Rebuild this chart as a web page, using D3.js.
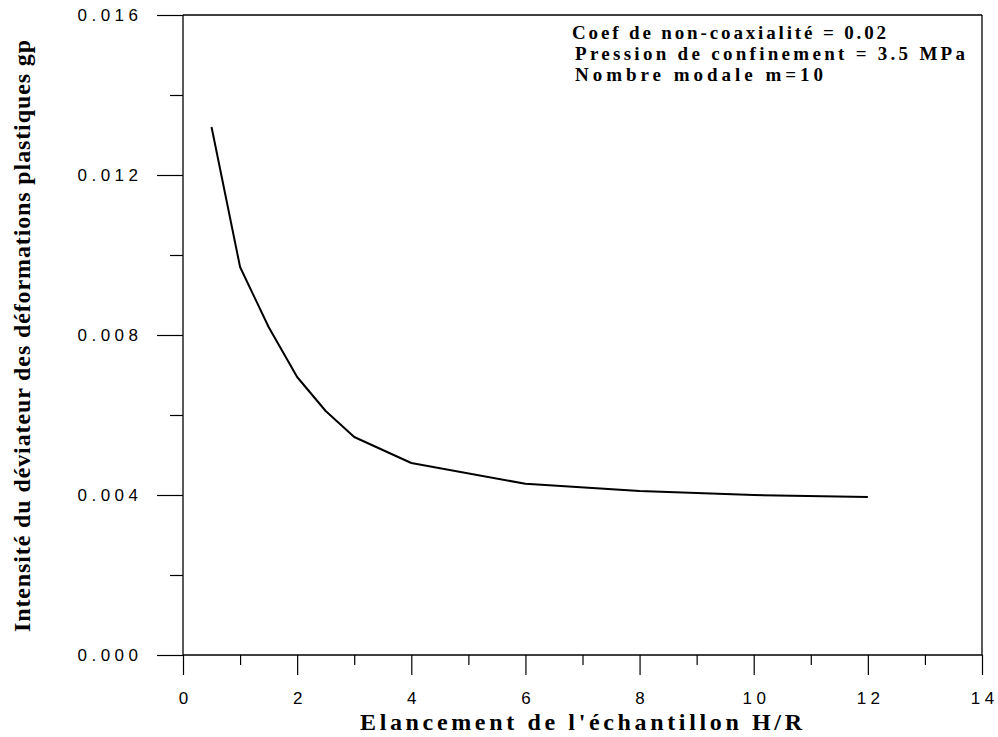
<!DOCTYPE html>
<html><head><meta charset="utf-8">
<script src="https://cdn.jsdelivr.net/npm/d3@7/dist/d3.min.js"></script>
<style>
html,body{margin:0;padding:0;background:#fff;}
svg{display:block;}
.tick text{font-family:"Liberation Sans",Arial,sans-serif;font-size:17px;fill:#000;letter-spacing:4.5px;}
</style></head>
<body>
<svg id="chart" width="998" height="737"></svg>
<script>
// ---- data ----
const slenderness = [0.5, 1, 1.5, 2, 2.5, 3, 4, 6, 8, 10, 12];
const gpIntensity = [0.0132, 0.0097, 0.0082, 0.00695, 0.0061, 0.00545, 0.0048, 0.00428, 0.0041, 0.0040, 0.00395];
const xMajorTicks = [0, 2, 4, 6, 8, 10, 12, 14];
const xMinorTicks = [1, 3, 5, 7, 9, 11, 13];
const yMajorTicks = [0, 0.004, 0.008, 0.012, 0.016];
const yMinorTicks = [0.002, 0.006, 0.010, 0.014];
const annotationLines = [
  "Coef de non-coaxialité = 0.02",
  "Pression de confinement = 3.5 MPa",
  "Nombre modale m=10"
];
const xTitle = "Elancement de l'échantillon H/R";
const yTitle = "Intensité du déviateur des déformations plastiques gp";

// ---- layout ----
const L = 183, R = 982, T = 15, B = 655;
const svg = d3.select("#chart");
const x = d3.scaleLinear().domain([0, 14]).range([L, R]);
const y = d3.scaleLinear().domain([0, 0.016]).range([B, T]);

// frame (top and right)
svg.append("line").attr("x1", L).attr("x2", R).attr("y1", T).attr("y2", T)
  .attr("stroke", "#000").attr("stroke-width", 1.3);
svg.append("line").attr("x1", R).attr("x2", R).attr("y1", T).attr("y2", B)
  .attr("stroke", "#000").attr("stroke-width", 1.3);

// y axis
const yMaj = svg.append("g").attr("transform", `translate(${L},0)`)
  .call(d3.axisLeft(y).tickValues(yMajorTicks).tickSize(26).tickSizeOuter(0)
    .tickFormat(d3.format(".3f")));
yMaj.select(".domain").remove();
yMaj.selectAll(".tick text").attr("x", -40.5).attr("dy", "0.35em");
const yMin = svg.append("g").attr("transform", `translate(${L},0)`)
  .call(d3.axisLeft(y).tickValues(yMinorTicks).tickSize(13).tickFormat(""));
yMin.select(".domain").remove();
svg.append("line").attr("x1", L).attr("x2", L).attr("y1", T).attr("y2", B)
  .attr("stroke", "#000").attr("stroke-width", 1.3);

// x axis
const xMaj = svg.append("g").attr("transform", `translate(0,${B})`)
  .call(d3.axisBottom(x).tickValues(xMajorTicks).tickSize(20).tickSizeOuter(0)
    .tickFormat(d3.format("d")));
xMaj.select(".domain").remove();
xMaj.selectAll(".tick text").attr("y", 49).attr("dy", 0).attr("dx", "2.25px");
const xMin = svg.append("g").attr("transform", `translate(0,${B})`)
  .call(d3.axisBottom(x).tickValues(xMinorTicks).tickSize(10).tickFormat(""));
xMin.select(".domain").remove();
svg.append("line").attr("x1", L).attr("x2", R).attr("y1", B).attr("y2", B)
  .attr("stroke", "#000").attr("stroke-width", 1.3);
svg.selectAll(".tick line").attr("stroke", "#000").attr("stroke-width", 1.2);

// curve
const pts = slenderness.map((v, i) => [v, gpIntensity[i]]);
svg.append("path").datum(pts)
  .attr("fill", "none").attr("stroke", "#000").attr("stroke-width", 2)
  .attr("stroke-linejoin", "round")
  .attr("d", d3.line().x(d => x(d[0])).y(d => y(d[1])));

// annotation
const annX = [572, 575, 575];
const annLen = [314, 390, 248];
const annY = [39, 60, 81];
svg.selectAll("text.ann").data(annotationLines).enter().append("text")
  .attr("class", "ann")
  .attr("x", (d, i) => annX[i]).attr("y", (d, i) => annY[i])
  .attr("textLength", (d, i) => annLen[i]).attr("lengthAdjust", "spacing")
  .style("font-family", "'Liberation Serif','Times New Roman',serif")
  .style("font-weight", "bold").style("font-size", "19px")
  .text(d => d);

// axis titles
svg.append("text")
  .attr("x", 360).attr("y", 730)
  .attr("textLength", 442).attr("lengthAdjust", "spacing")
  .style("font-family", "'Liberation Serif','Times New Roman',serif")
  .style("font-weight", "bold").style("font-size", "24px")
  .text(xTitle);

svg.append("text")
  .attr("transform", "translate(30,632) rotate(-90)")
  .attr("x", 0).attr("y", 0)
  .attr("textLength", 592).attr("lengthAdjust", "spacing")
  .style("font-family", "'Liberation Serif','Times New Roman',serif")
  .style("font-weight", "bold").style("font-size", "24px")
  .text(yTitle);
</script>
</body></html>
